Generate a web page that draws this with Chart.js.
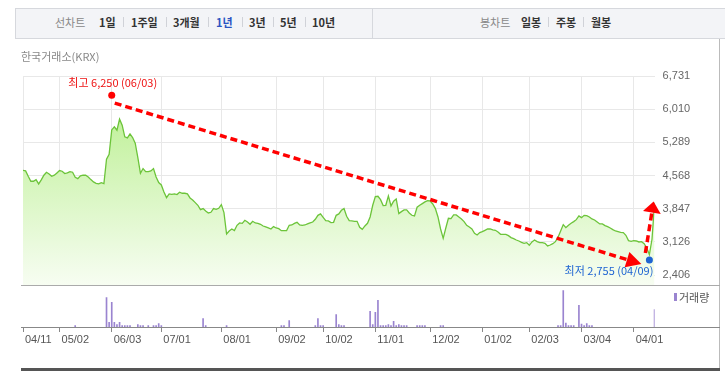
<!DOCTYPE html>
<html>
<head>
<meta charset="utf-8">
<script src="https://cdn.jsdelivr.net/npm/chart.js@4.4.1/dist/chart.umd.min.js"></script>
<style>
  body { margin: 0; width: 725px; height: 372px; overflow: hidden; background: #fff; position: relative; font-family: "Noto Sans CJK KR", sans-serif; }
  canvas { position: absolute; left: 0; top: 0; }
  .bar { position: absolute; left: 15px; top: 8px; width: 712px; height: 29px; background: #f3f4f7; border: 1px solid #d6d8dd; border-right: none; }
  .t { position: absolute; top: 14px; font-size: 11px; line-height: 16px; white-space: nowrap; color: #333; font-weight: bold; }
  .t.g { color: #888; font-weight: normal; }
  .t.on { color: #2b54c2; }
  .sep { position: absolute; top: 17px; width: 1px; height: 10px; background: #d0d2d8; }
  .ln { position: absolute; }
</style>
</head>
<body>
<canvas id="price" width="725" height="372"></canvas>
<canvas id="vol" width="725" height="372"></canvas>

<div class="bar"></div>
<div class="ln" style="left:372px;top:9px;width:1px;height:29px;background:#d6d8dd"></div>
<span class="t g" style="left:55px">선차트</span>
<span class="t" style="left:99px">1일</span><i class="sep" style="left:123px"></i>
<span class="t" style="left:131px">1주일</span><i class="sep" style="left:166px"></i>
<span class="t" style="left:173px">3개월</span><i class="sep" style="left:208px"></i>
<span class="t on" style="left:216px">1년</span><i class="sep" style="left:242px"></i>
<span class="t" style="left:249px">3년</span><i class="sep" style="left:273px"></i>
<span class="t" style="left:280px">5년</span><i class="sep" style="left:305px"></i>
<span class="t" style="left:312px">10년</span>
<span class="t g" style="left:480px">봉차트</span>
<span class="t" style="left:521px">일봉</span><i class="sep" style="left:548px"></i>
<span class="t" style="left:556px">주봉</span><i class="sep" style="left:583px"></i>
<span class="t" style="left:591px">월봉</span>

<span class="t g" style="left:21px;top:48px">한국거래소(KRX)</span>

<div class="ln" style="left:719px;top:39px;width:1px;height:331px;background:#bbb"></div>
<div class="ln" style="left:21px;top:285px;width:699px;height:1px;background:#aaa"></div>
<div class="ln" style="left:21px;top:327px;width:699px;height:1px;background:#888"></div>
<div class="ln" style="left:21px;top:368px;width:699px;height:3px;background:#555"></div>
<div class="ln" style="left:674px;top:293px;width:3px;height:8px;background:#9a84d0"></div>
<span class="t g" style="left:679px;top:289px;color:#555">거래량</span>

<script>
// x axis: trading days since 04/11
const tickDays = [0, 14, 34, 53, 76, 97, 115, 135, 156, 176, 194, 214, 234];
const tickLabels = ["04/11", "05/02", "06/03", "07/01", "08/01", "09/02", "10/02", "11/01", "12/02", "01/02", "02/03", "03/04", "04/01"];

const yTicks = [2406, 3126, 3847, 4568, 5289, 6010, 6731];
const yTickLabels = ["2,406", "3,126", "3,847", "4,568", "5,289", "6,010", "6,731"];

// daily close
const closes = [
  4683, 4669, 4553, 4444, 4444, 4480, 4386, 4473, 4575, 4640,
  4604, 4553, 4575, 4625, 4676, 4662, 4611, 4625, 4654, 4640,
  4531, 4502, 4560, 4575, 4575, 4538, 4480, 4430, 4400, 4386,
  4415, 4393, 4923, 5031, 5560, 5626, 5553, 5793, 5662, 5408,
  5386, 5474, 5394, 5270, 4959, 4618, 4720, 4654, 4654, 4669,
  4720, 4538, 4415, 4364, 4212, 4089, 4169, 4161, 4169, 4154,
  4205, 4183,
  4183, 4169, 4081, 4038, 3980, 3922, 3828, 3850, 3799, 3755,
  3770, 3850, 3835, 3857, 3936, 3762, 3298, 3364, 3407, 3371,
  3487, 3538, 3530, 3596, 3559, 3509, 3574, 3538, 3530, 3509,
  3472, 3451, 3429, 3407, 3458, 3429, 3414, 3371, 3371, 3371,
  3487, 3494, 3530, 3552, 3494, 3487, 3494, 3516, 3538, 3559,
  3617, 3704, 3734, 3661, 3588, 3581, 3545, 3552, 3704, 3734,
  3813,
  3850, 3683, 3589, 3581, 3574, 3574, 3444, 3400, 3473, 3531,
  3668, 3922, 4110, 4118, 4045, 3915, 3922, 4125, 3908, 4009,
  4060, 3741, 3784, 3821, 3821, 3755, 3705, 3690, 3879, 3922,
  3958, 3995, 4024, 4016, 3951, 3850, 3668, 3407, 3204, 3429,
  3639, 3632, 3712, 3712, 3668, 3625, 3567, 3487, 3451, 3407,
  3313, 3277, 3328, 3349, 3378, 3407, 3407, 3386, 3378, 3342,
  3291,
  3291, 3291, 3262, 3219, 3197, 3168, 3146, 3117, 3096, 3110,
  3052, 3125, 3168, 3132, 3110, 3110, 3096, 3038, 3059, 3088,
  3132, 3226, 3364, 3502, 3436, 3487, 3531, 3567, 3610, 3690,
  3654, 3704, 3697, 3668, 3625, 3603, 3559, 3516, 3516, 3480,
  3458, 3429, 3393, 3364, 3349, 3335, 3328, 3270, 3154, 3139,
  3154, 3146, 3125, 3132, 3088, 2994, 2849, 3183, 3980
];

// volume, only days with a visible bar
const volDays = [20, 32, 33, 34, 35, 36, 37, 38, 39, 40, 41, 44, 45, 46, 48, 50, 51, 52, 53,
  69, 70, 78, 99, 100, 102, 112, 113, 114, 115, 120, 121, 122, 123,
  133, 134, 135, 136, 137, 138, 139, 140, 141, 142, 143, 144, 145, 146, 147,
  151, 152, 153, 154, 160, 161,
  205, 206, 207, 208, 209, 210, 211, 213, 214, 215, 216, 217, 218, 242];
const volumes = [33000, 733000, 118000, 618000, 118000, 58000, 118000, 33000, 33000, 33000, 33000, 58000, 33000, 33000, 33000, 33000, 33000, 83000, 33000,
  208000, 33000, 33000, 33000, 33000, 158000, 33000, 208000, 33000, 33000, 308000, 58000, 33000, 33000,
  393000, 58000, 368000, 668000, 33000, 33000, 33000, 58000, 33000, 143000, 33000, 58000, 33000, 33000, 33000,
  33000, 33000, 33000, 33000, 33000, 33000,
  33000, 33000, 908000, 100000, 33000, 33000, 33000, 543000, 75000, 33000, 83000, 33000, 33000, 433000];

// high / low marks
const markDays = [34, 240];
const markValues = [6250, 2755];
const markLabels = ["최고 6,250 (06/03)", "최저 2,755 (04/09)"];

Chart.defaults.font.family = "'Liberation Sans', sans-serif";
Chart.defaults.font.size = 11;

function arrow(c, x1, y1, x2, y2, len, half) {
  let a = Math.atan2(y2 - y1, x2 - x1);
  let bx = x2 - len * Math.cos(a), by = y2 - len * Math.sin(a);
  c.strokeStyle = "#ff0000";
  c.lineWidth = 3.5;
  c.setLineDash([7, 4]);
  c.beginPath();
  c.moveTo(x1, y1);
  c.lineTo(bx, by);
  c.stroke();
  c.setLineDash([]);
  c.fillStyle = "#ff0000";
  c.beginPath();
  c.moveTo(x2, y2);
  c.lineTo(bx + half * Math.sin(a), by - half * Math.cos(a));
  c.lineTo(bx - half * Math.sin(a), by + half * Math.cos(a));
  c.closePath();
  c.fill();
}

const notes = {
  id: "notes",
  afterDatasetsDraw(chart) {
    let c = chart.ctx, xs = chart.scales.x, ys = chart.scales.y;
    let hx = xs.getPixelForValue(markDays[0]), hy = ys.getPixelForValue(markValues[0]);
    let lx = xs.getPixelForValue(markDays[1]), ly = ys.getPixelForValue(markValues[1]);
    let last = closes.length - 1;
    let ex = xs.getPixelForValue(last), ey = ys.getPixelForValue(closes[last]);
    c.save();
    arrow(c, hx + 3, hy + 5, lx - 8, ly + 5, 15, 8);
    arrow(c, lx - 4, ly - 6, ex - 1, ey - 1, 11, 9);

    c.fillStyle = "#ff0000";
    c.beginPath(); c.arc(hx, hy - 3, 3.5, 0, Math.PI * 2); c.fill();
    c.fillStyle = "#1e64d2";
    c.beginPath(); c.arc(lx, ly + 1, 3.5, 0, Math.PI * 2); c.fill();

    c.font = "11px 'Noto Sans CJK KR', sans-serif";
    c.textBaseline = "middle";
    c.fillStyle = "#ee1111";
    c.textAlign = "center";
    c.fillText(markLabels[0], hx + 1, hy - 15);
    c.fillStyle = "#1e64d2";
    c.textAlign = "right";
    c.fillText(markLabels[1], lx + 4, ly + 12);
    c.restore();
  }
};

new Chart(document.getElementById("price"), {
  type: "line",
  data: {
    datasets: [{
      data: closes.map((v, i) => ({ x: i, y: v })),
      borderColor: "#6cc43a",
      borderWidth: 1.3,
      pointRadius: 0,
      tension: 0,
      fill: "start",
      backgroundColor: (ctx) => {
        let area = ctx.chart.chartArea;
        if (!area) return "rgba(190,240,150,0.6)";
        let g = ctx.chart.ctx.createLinearGradient(0, area.top, 0, area.bottom);
        g.addColorStop(0, "#b4ee86");
        g.addColorStop(1, "#f7fdf2");
        return g;
      }
    }]
  },
  options: {
    responsive: false,
    animation: false,
    layout: { padding: { left: 23, top: 76, right: 10.4, bottom: 87 } },
    scales: {
      x: {
        type: "linear",
        min: 0,
        max: closes.length - 1,
        afterBuildTicks: (s) => { s.ticks = tickDays.map(v => ({ value: v })); },
        afterFit: (s) => { s.height = 0; },
        ticks: { display: false },
        grid: { color: "#e8e8e8", drawTicks: false },
        border: { display: false }
      },
      y: {
        position: "right",
        min: 2190,
        max: 6731,
        afterBuildTicks: (s) => { s.ticks = yTicks.map(v => ({ value: v })); },
        afterFit: (s) => { s.width = 60; },
        ticks: {
          padding: 8,
          color: "#666",
          callback: (v) => yTickLabels[yTicks.indexOf(v)]
        },
        grid: { color: "#e8e8e8", drawTicks: false },
        border: { display: false }
      }
    },
    plugins: { legend: { display: false }, tooltip: { enabled: false } }
  },
  plugins: [notes]
});

new Chart(document.getElementById("vol"), {
  type: "bar",
  data: {
    datasets: [{
      data: volDays.map((d, i) => ({ x: d, y: volumes[i] })),
      backgroundColor: "#9a84d0",
      barThickness: 1
    }]
  },
  options: {
    responsive: false,
    animation: false,
    layout: { padding: { left: 23, top: 285, right: 70.4, bottom: 0 } },
    scales: {
      x: {
        type: "linear",
        min: 0,
        max: closes.length - 1,
        offset: false,
        afterBuildTicks: (s) => { s.ticks = tickDays.map(v => ({ value: v })); },
        afterFit: (s) => { s.height = 45; },
        ticks: {
          align: "start",
          labelOffset: 2,
          padding: 1,
          maxRotation: 0,
          autoSkip: false,
          color: "#555",
          callback: (v) => tickLabels[tickDays.indexOf(v)]
        },
        grid: { drawOnChartArea: false, drawTicks: true, tickLength: 5, color: "#888", offset: false },
        border: { display: false }
      },
      y: { display: false, min: 0, max: 1050000 }
    },
    plugins: { legend: { display: false }, tooltip: { enabled: false } }
  }
});
</script>
</body>
</html>
